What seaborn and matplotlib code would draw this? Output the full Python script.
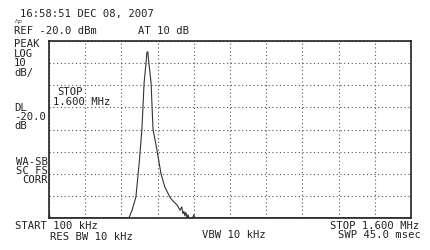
import matplotlib
matplotlib.use("Agg")
import matplotlib.pyplot as plt
import seaborn as sns
import pandas as pd

# ---- data ----
freq_khz = [100, 104, 431, 444, 460, 473, 485, 494, 502, 505, 506, 510, 511, 514,
            523, 531, 547, 564, 580, 601, 615, 630, 643, 650, 655, 659, 663, 667,
            672, 676, 680, 695, 700, 704, 1600]
level_dbm = [-97, -100, -100, -96.5, -90.6, -76, -60, -39, -30, -26, -25, -25, -27, -30,
             -39, -60, -69, -80, -86, -90.6, -92.5, -94, -96.5, -95, -98, -97, -99, -97.5,
             -100, -98.5, -100, -100, -98.5, -100, -100]
x_ticks = [100 + 150 * k for k in range(11)]
y_ticks = [-20 - 10 * k for k in range(9)]

header = "16:58:51 DEC 08, 2007"
ref_text = "REF -20.0 dBm"
atten_text = "AT 10 dB"
left_top = ["PEAK", "LOG", "10", "dB/"]
left_mid = ["DL", "-20.0", "dB"]
left_bot = ["WA-SB", "SC FS", "CORR"]
stop_inset = ["STOP", "1.600 MHz"]
start_text = "START 100 kHz"
stop_text = "STOP 1.600 MHz"
rbw_text = "RES BW 10 kHz"
vbw_text = "VBW 10 kHz"
swp_text = "SWP 45.0 msec"

df = pd.DataFrame({"freq": freq_khz, "level": level_dbm})

sns.set_style("white")
plt.rcParams["font.family"] = ["DejaVu Sans Mono"]

W, H = 430, 250
fig = plt.figure(figsize=(W / 100, H / 100), dpi=100)
fig.patch.set_facecolor("white")
ax = fig.add_axes([49 / W, 1 - 218 / H, (411 - 49) / W, (218 - 41) / H])

sns.lineplot(data=df, x="freq", y="level", sort=False, ax=ax,
             color="#333333", linewidth=0.8, clip_on=True)

ax.set_xlim(100, 1600)
ax.set_ylim(-100, -20)
ax.set_xticks(x_ticks)
ax.set_yticks(y_ticks)
ax.tick_params(length=0, labelbottom=False, labelleft=False)
ax.set_xlabel("")
ax.set_ylabel("")
ax.grid(True, color="#555555", linestyle=(0, (1, 2.4)), linewidth=0.8)
for s in ax.spines.values():
    s.set_color("#222222")
    s.set_linewidth(1.2)

fs = 7.6
tc = "#222222"


def ftxt(x, y, s, ha="left", **kw):
    fig.text(x / W, 1 - y / H, s, ha=ha, va="center", fontsize=fs, color=tc, **kw)


ftxt(20, 14.5, header)
fig.text(15 / W, 1 - 21.5 / H, "hp", ha="left", va="center", fontsize=4.5,
         style="italic", color="#444444", family=["DejaVu Sans"])
ftxt(14, 31.5, ref_text)
ftxt(138, 31.5, atten_text)
for i, s in enumerate(left_top):
    ftxt(14, 44 + i * 9.7, s)
for i, s in enumerate(left_mid):
    ftxt(14, 108 + i * 9.2, s)
for i, s in enumerate(left_bot):
    ftxt(48, 162 + i * 9, s, ha="right")
ftxt(57, 92, stop_inset[0])
ftxt(53, 102, stop_inset[1])
ftxt(15, 226, start_text)
ftxt(50, 236.5, rbw_text)
ftxt(202, 235.5, vbw_text)
ftxt(419, 226, stop_text, ha="right")
ftxt(421, 235.5, swp_text, ha="right")

fig.savefig("out.png", dpi=100, facecolor="white")
